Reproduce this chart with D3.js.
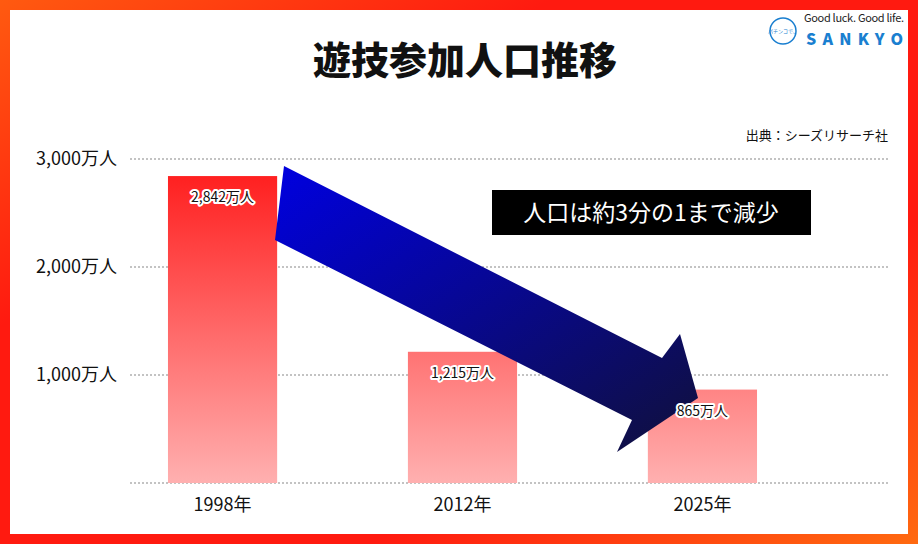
<!DOCTYPE html>
<html><head><meta charset="utf-8">
<script src="https://cdn.jsdelivr.net/npm/d3@7"></script>
<style>body{margin:0;background:#fff}svg{display:block}text{font-family:"Noto Sans CJK JP","Noto Sans",sans-serif}</style>
</head><body><svg id="c" width="918" height="544"></svg>
<script>
const years = ["1998年", "2012年", "2025年"];
const players = [2842, 1215, 865];
const valueLabels = ["2,842万人", "1,215万人", "865万人"];
const yTicks = [1000, 2000, 3000];

const W = 918, H = 544;
const svg = d3.select("#c");
const defs = svg.append("defs");

const fg = defs.append("linearGradient").attr("id", "frame").attr("x1", 0).attr("y1", 0).attr("x2", 1).attr("y2", 1);
fg.append("stop").attr("offset", "0%").attr("stop-color", "#ff5a10");
fg.append("stop").attr("offset", "30%").attr("stop-color", "#ff1a10");
fg.append("stop").attr("offset", "70%").attr("stop-color", "#ff1a10");
fg.append("stop").attr("offset", "100%").attr("stop-color", "#ff6a10");
svg.append("rect").attr("width", W).attr("height", H).attr("fill", "url(#frame)");
svg.append("rect").attr("x", 10).attr("y", 10).attr("width", W - 20).attr("height", H - 20).attr("fill", "#fff");

const margin = {left: 130, right: 28, top: 159, bottom: 61};
const x = d3.scaleBand().domain(years).range([48, 877]).paddingInner(0.545).paddingOuter(0.5);
const y = d3.scaleLinear().domain([0, 3000]).range([H - margin.bottom, margin.top]);

const bg = defs.append("linearGradient").attr("id", "bar").attr("gradientUnits", "userSpaceOnUse")
  .attr("x1", 0).attr("y1", y(d3.max(players))).attr("x2", 0).attr("y2", y(0));
bg.append("stop").attr("offset", "0%").attr("stop-color", "#ff2020");
bg.append("stop").attr("offset", "100%").attr("stop-color", "#ffb0b0");

const ag = defs.append("linearGradient").attr("id", "arrow").attr("x1", 0).attr("y1", 0).attr("x2", 1).attr("y2", 1);
ag.append("stop").attr("offset", "0%").attr("stop-color", "#0000e0");
ag.append("stop").attr("offset", "100%").attr("stop-color", "#10103a");

// title
svg.append("text").attr("x", 465).attr("y", 74).attr("text-anchor", "middle")
  .attr("font-size", 38).attr("font-weight", 900).attr("fill", "#111").text("遊技参加人口推移");

// logo
svg.append("circle").attr("cx", 783).attr("cy", 31).attr("r", 13).attr("fill", "none").attr("stroke", "#1a7fd0").attr("stroke-width", 1.5);
svg.append("text").attr("x", 783).attr("y", 33).attr("text-anchor", "middle").attr("font-size", 5).attr("fill", "#1a7fd0").text("パチンコで、");
svg.append("text").attr("x", 804).attr("y", 22).attr("font-size", 11).attr("font-family", "Liberation Serif").attr("fill", "#222").attr("textLength", 100).text("Good luck. Good life.");
svg.append("text").attr("x", 806).attr("y", 45).attr("font-size", 16).attr("font-weight", 900).attr("font-family", "DejaVu Sans").attr("fill", "#1a7fd0").attr("textLength", 97).text("SANKYO");

// source
svg.append("text").attr("x", 888).attr("y", 140).attr("text-anchor", "end").attr("font-size", 13).attr("fill", "#111").text("出典：シーズリサーチ社");

// grid
const grid = svg.append("g");
grid.selectAll("line").data([0, ...yTicks]).join("line")
  .attr("x1", margin.left).attr("x2", W - margin.right)
  .attr("y1", d => y(d)).attr("y2", d => y(d))
  .attr("stroke", "#888").attr("stroke-width", 1.2).attr("stroke-dasharray", "2,2");

const yAxis = svg.append("g").attr("transform", `translate(${margin.left - 10},0)`)
  .call(d3.axisLeft(y).tickValues(yTicks).tickSize(0).tickFormat(d => d3.format(",")(d) + "万人"));
yAxis.select(".domain").remove();
yAxis.selectAll("text").attr("font-size", 18).attr("fill", "#111").attr("font-family", "Noto Sans CJK JP");

const xAxis = svg.append("g").attr("transform", `translate(0,${y(0) + 12})`)
  .call(d3.axisBottom(x).tickSize(0));
xAxis.select(".domain").remove();
xAxis.selectAll("text").attr("font-size", 18).attr("fill", "#111").attr("font-family", "Noto Sans CJK JP");

// bars
svg.append("g").selectAll("rect").data(players).join("rect")
  .attr("x", (d, i) => x(years[i])).attr("width", x.bandwidth())
  .attr("y", d => y(d)).attr("height", d => y(0) - y(d))
  .attr("fill", "url(#bar)");

// arrow
svg.append("path")
  .attr("d", "M284,166 L662,358 L680,334 L698,398 L617,452 L632,420 L275,240 Z")
  .attr("fill", "url(#arrow)");

// value labels
svg.append("g").selectAll("text").data(players).join("text")
  .attr("x", (d, i) => x(years[i]) + x.bandwidth() / 2)
  .attr("y", d => y(d) + 26)
  .attr("text-anchor", "middle").attr("font-size", 14).attr("fill", "#111")
  .attr("stroke", "#fff").attr("stroke-width", 4).attr("paint-order", "stroke").attr("stroke-linejoin", "round")
  .text((d, i) => valueLabels[i]);

// callout
svg.append("rect").attr("x", 492).attr("y", 190).attr("width", 319).attr("height", 45).attr("fill", "#000");
svg.append("text").attr("x", 651).attr("y", 221).attr("text-anchor", "middle").attr("font-size", 23).attr("fill", "#fff").text("人口は約3分の1まで減少");
</script></body></html>
